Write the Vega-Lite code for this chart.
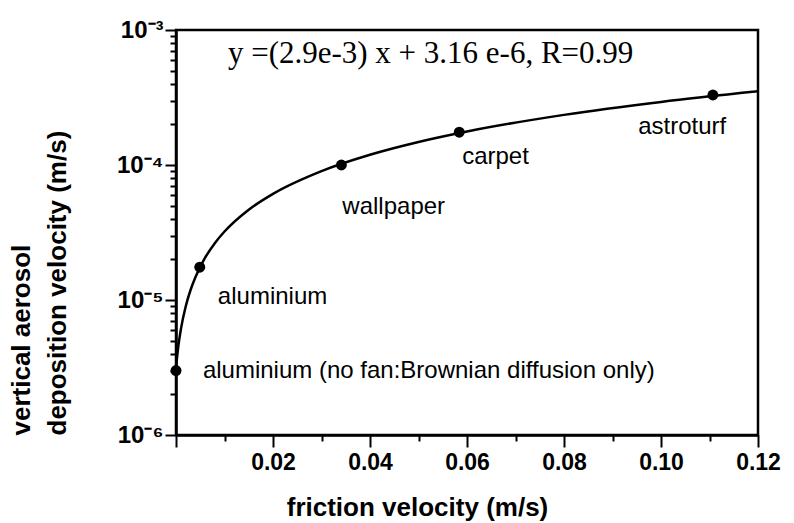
{
  "$schema": "https://vega.github.io/schema/vega-lite/v6.json",
  "width": 582,
  "height": 405,
  "autosize": {"type": "none"},
  "padding": {"left": 176, "top": 30, "right": 36, "bottom": 88},
  "background": "white",
  "config": {
    "view": {"stroke": "black", "strokeWidth": 2.5},
    "axis": {
      "domainColor": "black", "domainWidth": 2.5, "tickColor": "black", "tickWidth": 2,
      "labelColor": "black", "titleColor": "black", "grid": false,
      "labelFont": "Liberation Sans", "titleFont": "Liberation Sans"
    }
  },
  "datasets": {
    "curve": [
      {"x": 0, "y": 3.16e-6},
      {"x": 0.0005, "y": 4.61e-6},
      {"x": 0.001, "y": 6.06e-6},
      {"x": 0.002, "y": 8.96e-6},
      {"x": 0.003, "y": 1.186e-5},
      {"x": 0.004, "y": 1.476e-5},
      {"x": 0.006, "y": 2.056e-5},
      {"x": 0.008, "y": 2.636e-5},
      {"x": 0.01, "y": 3.216e-5},
      {"x": 0.015, "y": 4.666e-5},
      {"x": 0.02, "y": 6.116e-5},
      {"x": 0.03, "y": 9.016e-5},
      {"x": 0.04, "y": 1.1916e-4},
      {"x": 0.05, "y": 1.4816e-4},
      {"x": 0.06, "y": 1.7716e-4},
      {"x": 0.08, "y": 2.3516e-4},
      {"x": 0.1, "y": 2.9316e-4},
      {"x": 0.12, "y": 3.5116e-4}
    ],
    "points": [
      {"x": 0, "y": 3.0e-6},
      {"x": 0.0049, "y": 1.75e-5},
      {"x": 0.0341, "y": 1.0e-4},
      {"x": 0.0584, "y": 1.75e-4},
      {"x": 0.1107, "y": 3.3e-4}
    ],
    "labels": [
      {"x": 0.0953, "y": 1.91e-4, "text": "astroturf"},
      {"x": 0.059, "y": 1.15e-4, "text": "carpet"},
      {"x": 0.0343, "y": 4.89e-5, "text": "wallpaper"},
      {"x": 0.00863, "y": 1.05e-5, "text": "aluminium"},
      {"x": 0.00555, "y": 2.98e-6, "text": "aluminium (no fan:Brownian diffusion only)"}
    ],
    "equation": [
      {"x": 0.0107, "y": 6.6e-4, "text": "y =(2.9e-3) x + 3.16 e-6, R=0.99"}
    ]
  },
  "layer": [
    {
      "data": {"name": "curve"},
      "mark": {"type": "line", "color": "black", "strokeWidth": 2.5, "interpolate": "monotone", "clip": true},
      "encoding": {
        "x": {
          "field": "x", "type": "quantitative",
          "scale": {"domain": [0, 0.12], "nice": false, "zero": false},
          "axis": {
            "title": "friction velocity (m/s)",
            "values": [0, 0.01, 0.02, 0.03, 0.04, 0.05, 0.06, 0.07, 0.08, 0.09, 0.1, 0.11, 0.12],
            "labelExpr": "(datum.value < 0.001 || round(datum.value*100) % 2 == 1) ? '' : format(datum.value, '.2f')",
            "tickSize": {"condition": {"test": "round(datum.value*100) % 2 == 0", "value": 12}, "value": 6},
            "labelFontSize": 23, "labelFontWeight": "bold", "labelPadding": 4,
            "labelFlush": false, "labelOverlap": false,
            "titleFontSize": 26, "titleFontWeight": "bold", "titlePadding": 20,
            "titleX": 241, "titleAlign": "center"
          }
        },
        "y": {
          "field": "y", "type": "quantitative",
          "scale": {"type": "log", "domain": [1e-6, 1e-3], "nice": false},
          "axis": {
            "title": ["vertical aerosol", "deposition velocity (m/s)"],
            "values": [1e-6, 2e-6, 3e-6, 4e-6, 5e-6, 6e-6, 7e-6, 8e-6, 9e-6, 1e-5, 2e-5, 3e-5, 4e-5, 5e-5, 6e-5, 7e-5, 8e-5, 9e-5, 1e-4, 2e-4, 3e-4, 4e-4, 5e-4, 6e-4, 7e-4, 8e-4, 9e-4, 1e-3],
            "labelExpr": "abs(log(datum.value)/LN10 - round(log(datum.value)/LN10)) < 0.001 ? '10⁻' + ['⁰','¹','²','³','⁴','⁵','⁶'][-round(log(datum.value)/LN10)] : ''",
            "tickSize": {"condition": {"test": "abs(log(datum.value)/LN10 - round(log(datum.value)/LN10)) < 0.001", "value": 11}, "value": 6},
            "labelFontSize": 24, "labelFontWeight": "bold", "labelPadding": 2,
            "labelFlush": false, "labelOverlap": false,
            "titleFontSize": 26, "titleFontWeight": "bold", "titleLineHeight": 36,
            "titlePadding": 46, "titleAnchor": "start"
          }
        }
      }
    },
    {
      "data": {"name": "points"},
      "mark": {"type": "circle", "color": "black", "size": 120, "opacity": 1},
      "encoding": {
        "x": {"field": "x", "type": "quantitative"},
        "y": {"field": "y", "type": "quantitative"}
      }
    },
    {
      "data": {"name": "labels"},
      "mark": {"type": "text", "align": "left", "baseline": "middle", "font": "Liberation Sans", "fontSize": 24, "color": "black"},
      "encoding": {
        "x": {"field": "x", "type": "quantitative"},
        "y": {"field": "y", "type": "quantitative"},
        "text": {"field": "text"}
      }
    },
    {
      "data": {"name": "equation"},
      "mark": {"type": "text", "align": "left", "baseline": "middle", "font": "Liberation Serif", "fontSize": 31, "color": "black"},
      "encoding": {
        "x": {"field": "x", "type": "quantitative"},
        "y": {"field": "y", "type": "quantitative"},
        "text": {"field": "text"}
      }
    }
  ]
}
